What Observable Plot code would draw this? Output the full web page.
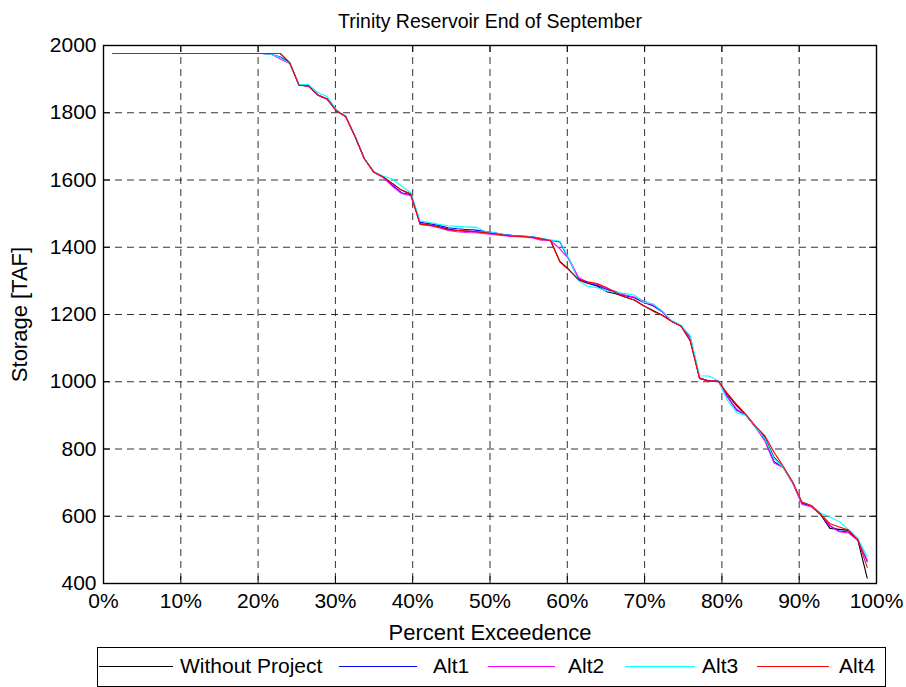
<!DOCTYPE html>
<html><head><meta charset="utf-8">
<script src="https://cdn.jsdelivr.net/npm/d3@7"></script>
<script src="https://cdn.jsdelivr.net/npm/@observablehq/plot@0.6"></script>
<style>
body{margin:0;background:#fff;font-family:"Liberation Sans",Arial,sans-serif;}
#wrap{position:relative;width:906px;height:687px;overflow:hidden;background:#fff;}
#wrap svg{position:absolute;left:0;top:0;}
#legend{position:absolute;left:97px;top:647px;width:789px;height:40px;border:1px solid #000;box-sizing:border-box;background:#fff;}
.sw{position:absolute;top:18px;height:0;border-top:1px solid;}
.lt{position:absolute;top:4px;font-size:21px;line-height:28px;color:#000;white-space:nowrap;}
</style></head><body><div id="wrap"></div>
<script>
const title = "Trinity Reservoir End of September";
const xLabel = "Percent Exceedence";
const yLabel = "Storage [TAF]";
const seriesNames = ["Without Project", "Alt1", "Alt2", "Alt3", "Alt4"];
const seriesColors = ["#000000", "#0000ff", "#ff00ff", "#00ffff", "#ff0000"];
const xTicks = [0, 10, 20, 30, 40, 50, 60, 70, 80, 90, 100];
const yTicks = [400, 600, 800, 1000, 1200, 1400, 1600, 1800, 2000];

// exceedence (%) of each ranked year
const exceedence = [1.20,2.41,3.61,4.82,6.02,7.23,8.43,9.64,10.84,12.05,13.25,14.46,15.66,16.87,18.07,19.28,20.48,21.69,22.89,
24.10,25.30,26.51,27.71,28.92,30.12,31.33,32.53,33.73,34.94,
36.14,37.35,38.55,39.76,40.96,42.17,43.37,44.58,45.78,46.99,
48.19,49.40,50.60,51.81,53.01,54.22,55.42,56.63,57.83,59.04,
60.24,61.45,62.65,63.86,65.06,66.27,67.47,68.67,69.88,71.08,
72.29,73.49,74.70,75.90,77.11,78.31,79.52,80.72,81.93,83.13,
84.34,85.54,86.75,87.95,89.16,90.36,91.57,92.77,93.98,95.18,
96.39,97.59,98.80];

const withoutProject = [1976,1976,1976,1976,1976,1976,1976,1976,1976,1976,1976,1976,1976,1976,1976,1976,1976,1976,1976,
1948,1882,1880,1853,1841,1806,1789,1730,1664,1624,
1610,1590,1570,1558,1470,1466,1461,1454,1450,1448,
1446,1443,1440,1436,1433,1432,1430,1425,1420,1358,
1333,1303,1293,1285,1268,1262,1252,1243,1226,1212,
1198,1180,1166,1122,1010,1002,1002,962,928,900,
866,835,775,745,700,640,630,605,564,561,
558,528,416];
const alt1 = [1976,1976,1976,1976,1976,1976,1976,1976,1976,1976,1976,1976,1976,1976,1976,1976,1976,1974,1966,
1948,1882,1880,1853,1841,1806,1789,1730,1664,1624,
1610,1585,1562,1556,1474,1470,1465,1458,1455,1453,
1451,1447,1443,1438,1435,1433,1431,1426,1421,1416,
1362,1306,1293,1287,1275,1265,1256,1250,1236,1226,
1208,1180,1166,1133,1012,1002,1002,955,915,900,
866,828,762,745,700,638,630,606,572,556,
553,530,465];
const alt2 = [1976,1976,1976,1976,1976,1976,1976,1976,1976,1976,1976,1976,1976,1976,1976,1976,1976,1975,1960,
1946,1882,1880,1853,1841,1806,1789,1730,1664,1624,
1608,1582,1560,1553,1468,1464,1458,1450,1446,1444,
1443,1440,1437,1434,1432,1431,1428,1421,1420,1395,
1365,1310,1296,1290,1278,1268,1258,1252,1240,1228,
1210,1180,1166,1130,1010,1002,1002,955,918,900,
864,825,758,745,698,635,628,606,570,554,
550,528,470];
const alt3 = [1976,1976,1976,1976,1976,1976,1976,1976,1976,1976,1976,1976,1976,1976,1976,1976,1976,1974,1964,
1946,1884,1884,1860,1848,1810,1789,1732,1664,1625,
1612,1603,1582,1562,1478,1474,1468,1464,1462,1460,
1460,1447,1443,1437,1434,1433,1431,1427,1422,1418,
1365,1300,1284,1280,1270,1265,1262,1258,1236,1232,
1210,1182,1168,1137,1018,1017,1003,945,908,900,
866,832,772,745,700,642,632,610,598,584,
560,534,480];
const alt4 = [1976,1976,1976,1976,1976,1976,1976,1976,1976,1976,1976,1976,1976,1976,1976,1976,1976,1976,1976,
1948,1882,1880,1853,1841,1806,1789,1730,1664,1624,
1610,1590,1570,1558,1468,1466,1460,1452,1450,1448,
1446,1443,1440,1436,1433,1432,1430,1425,1420,1356,
1332,1304,1297,1292,1280,1265,1252,1243,1226,1210,
1198,1180,1166,1122,1010,1002,1002,965,932,902,
868,840,790,748,702,642,632,606,578,568,
559,530,448];

const allSeries = [withoutProject, alt1, alt2, alt3, alt4];
const data = [];
allSeries.forEach((vals, s) => vals.forEach((v, i) => data.push({series: seriesNames[s], p: exceedence[i], v})));

const gridX = xTicks.slice(1, -1);
const gridY = yTicks.slice(1, -1);

const chart = Plot.plot({
  width: 906, height: 647,
  marginLeft: 103, marginRight: 30, marginTop: 45, marginBottom: 64,
  style: {fontFamily: "'Liberation Sans', Arial, sans-serif", fontSize: "21px", background: "white", color: "black"},
  x: {domain: [0, 100], ticks: xTicks},
  y: {domain: [400, 2000], ticks: yTicks},
  color: {domain: seriesNames, range: seriesColors},
  marks: [
    Plot.ruleX(gridX, {x: d => d, stroke: "#000", strokeOpacity: 0.8, strokeDasharray: "7,5"}),
    Plot.ruleY(gridY, {y: d => d, stroke: "#000", strokeOpacity: 0.8, strokeDasharray: "7,5"}),
    Plot.tickY(gridY, {y: d => d, insetRight: 766, stroke: "#000"}),
    Plot.tickY(gridY, {y: d => d, insetLeft: 766, stroke: "#000"}),
    Plot.tickX(gridX, {x: d => d, insetTop: 531, stroke: "#000"}),
    Plot.tickX(gridX, {x: d => d, insetBottom: 531, stroke: "#000"}),
    Plot.line(data, {x: "p", y: "v", z: "series", stroke: "series", strokeWidth: 1.1}),
    Plot.frame({stroke: "#000", strokeWidth: 1.4}),
    Plot.axisX(xTicks, {tickSize: 0, tickPadding: 10, tickFormat: d => d + "%", label: null, fontSize: 21}),
    Plot.axisY(yTicks, {tickSize: 0, tickPadding: 7, tickFormat: d => String(d), label: null, fontSize: 21}),
    Plot.text([title], {frameAnchor: "top", lineAnchor: "middle", textAnchor: "middle", dy: -24, fontSize: 19.5, fill: "#000"}),
    Plot.text([xLabel], {frameAnchor: "bottom", lineAnchor: "middle", textAnchor: "middle", dy: 49, fontSize: 22, fill: "#000"}),
    Plot.text([yLabel], {frameAnchor: "left", lineAnchor: "middle", textAnchor: "middle", dx: -84, rotate: -90, fontSize: 22, fill: "#000"})
  ]
});

const wrap = document.getElementById("wrap");
wrap.appendChild(chart);

// legend
const legendLines = [[98, 172], [338, 416], [487, 554], [624, 694], [756, 828]];
const legendText = [179, 432, 567, 701, 838];
const legend = document.createElement("div");
legend.id = "legend";
seriesNames.forEach((name, i) => {
  const sw = document.createElement("div");
  sw.className = "sw";
  sw.style.left = (legendLines[i][0] - 97) + "px";
  sw.style.width = (legendLines[i][1] - legendLines[i][0]) + "px";
  sw.style.borderTopColor = seriesColors[i];
  legend.appendChild(sw);
  const t = document.createElement("div");
  t.className = "lt";
  t.style.left = (legendText[i] - 97) + "px";
  t.textContent = name;
  legend.appendChild(t);
});
wrap.appendChild(legend);
</script>
</body></html>
